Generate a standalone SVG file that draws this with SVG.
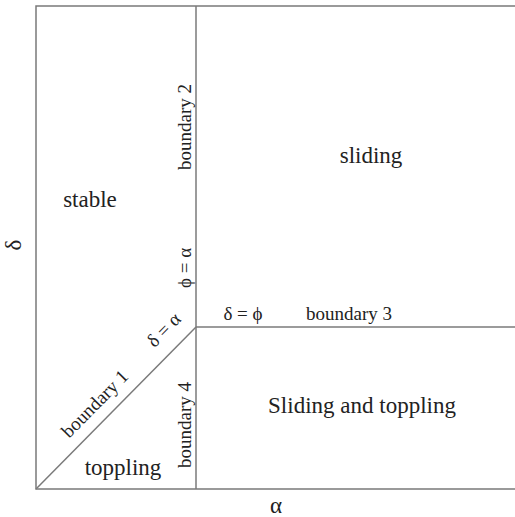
<svg xmlns="http://www.w3.org/2000/svg" width="515" height="517" viewBox="0 0 515 517">
<style>
.ln{stroke:#7a7a7a;stroke-width:1.5;fill:none}
text{font-family:"Liberation Serif","Times New Roman",serif;fill:#222}
.big{font-size:23px}
.sm{font-size:19px}
</style>
<rect width="515" height="517" fill="#fff"/>
<g id="connectors">
<path class="ln" d="M515,6 H36 V489 H515"/>
<path class="ln" d="M196,6 V489"/>
<path class="ln" d="M196,327 H515"/>
<path class="ln" d="M36,489 L196,327"/>
</g>
<g id="stable"><text class="big" x="90" y="207" text-anchor="middle">stable</text></g>
<g id="sliding"><text class="big" x="371" y="163" text-anchor="middle">sliding</text></g>
<g id="sliding-toppling"><text class="big" x="362" y="413" text-anchor="middle">Sliding and toppling</text></g>
<g id="toppling"><text class="big" x="123" y="475" text-anchor="middle">toppling</text></g>
<g id="axis-delta"><text class="big" transform="translate(14,245) rotate(-90)" text-anchor="middle" dy="7">δ</text></g>
<g id="axis-alpha"><text class="big" x="276" y="513" text-anchor="middle">α</text></g>
<g id="b2"><text class="sm" transform="translate(191,127) rotate(-90)" text-anchor="middle">boundary 2</text></g>
<g id="phi-alpha"><text class="sm" transform="translate(191,268) rotate(-90)" text-anchor="middle">ϕ = α</text></g>
<g id="b4"><text class="sm" transform="translate(191,425) rotate(-90)" text-anchor="middle">boundary 4</text></g>
<g id="delta-alpha"><text class="sm" transform="translate(164,330) rotate(-45.4)" text-anchor="middle" dy="6">δ = α</text></g>
<g id="b1"><text class="sm" transform="translate(95,404) rotate(-45.4)" text-anchor="middle" dy="6">boundary 1</text></g>
<g id="delta-phi"><text class="sm" x="243" y="320" text-anchor="middle">δ = ϕ</text></g>
<g id="b3"><text class="sm" x="349" y="320" text-anchor="middle">boundary 3</text></g>
</svg>
